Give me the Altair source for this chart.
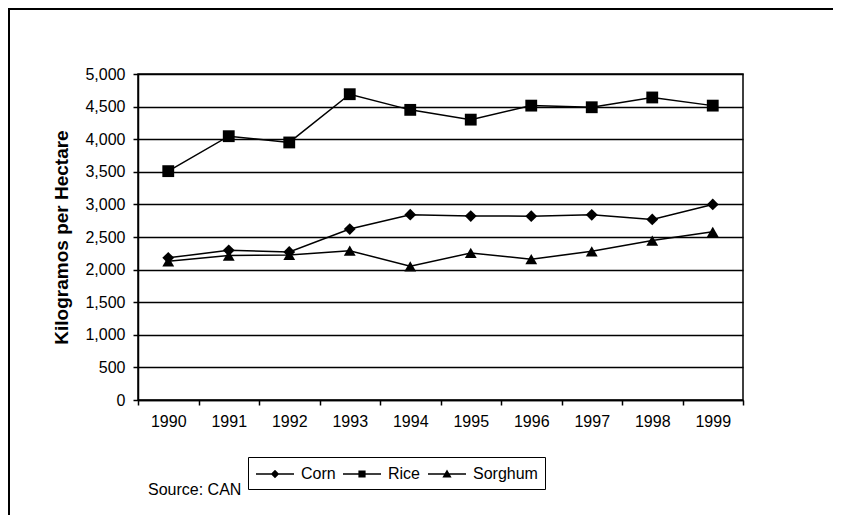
import altair as alt
import pandas as pd

years = ["1990", "1991", "1992", "1993", "1994", "1995", "1996", "1997", "1998", "1999"]
corn = [2180, 2295, 2270, 2622, 2842, 2821, 2820, 2840, 2770, 3000]
rice = [3510, 4046, 3950, 4690, 4450, 4300, 4515, 4490, 4640, 4515]
sorghum = [2127, 2215, 2225, 2290, 2050, 2255, 2160, 2280, 2445, 2580]
series = ["Corn", "Rice", "Sorghum"]
markers = ["diamond", "square", "triangle-up"]
y_ticks = [0, 500, 1000, 1500, 2000, 2500, 3000, 3500, 4000, 4500, 5000]

rows = []
for name, vals in zip(series, [corn, rice, sorghum]):
    for yr, v in zip(years, vals):
        rows.append({"Year": yr, "Crop": name, "Value": v})
df = pd.DataFrame(rows)

FONT = "Liberation Sans"

x_enc = alt.X(
    "Year:O",
    sort=years,
    scale=alt.Scale(type="band", paddingInner=0, paddingOuter=0),
    axis=alt.Axis(
        title=None, tickBand="extent", labelAngle=0, labelFontSize=16,
        labelFont=FONT, labelColor="black", domainColor="black", domainWidth=1.5,
        tickColor="black", tickWidth=1.5, tickSize=5, labelPadding=8, grid=False,
    ),
)
y_enc = alt.Y(
    "Value:Q",
    scale=alt.Scale(domain=[0, 5000], nice=False),
    axis=alt.Axis(
        title="Kilogramos per Hectare", values=y_ticks, format=",.0f",
        labelFontSize=16, labelFont=FONT, labelColor="black",
        titleFontSize=19, titleFont=FONT, titleFontWeight="bold", titleColor="black",
        titlePadding=13, domainColor="black", domainWidth=1.5, tickColor="black",
        tickWidth=1.5, tickSize=5, labelPadding=8, grid=True, gridColor="black",
        gridWidth=1.5,
    ),
)

base = alt.Chart(df)

lines = base.mark_line(color="black", strokeWidth=1.5).encode(
    x=x_enc, y=y_enc, detail="Crop:N"
)

point_layers = [
    base.transform_filter(alt.datum.Crop == name)
    .mark_point(filled=True, opacity=1, color="black", size=140, shape=shp)
    .encode(x=x_enc, y=y_enc)
    for name, shp in zip(series, markers)
]

# legend glyphs: a filled thin bar (the line) plus the marker, all clockwise
legend_paths = [
    "M-1.9,-0.075H1.9V0.075H-1.9Z M0,-0.42L0.42,0L0,0.42L-0.42,0Z",
    "M-1.9,-0.075H1.9V0.075H-1.9Z M-0.36,-0.36H0.36V0.36H-0.36Z",
    "M-1.9,-0.075H1.9V0.075H-1.9Z M0,-0.46L0.46,0.36H-0.46Z",
]

legend_layer = base.mark_point(
    filled=True, color="black", opacity=0, size=400
).encode(
    x=x_enc, y=y_enc,
    shape=alt.Shape(
        "Crop:N",
        scale=alt.Scale(domain=series, range=legend_paths),
        legend=alt.Legend(
            title=None, orient="none", legendX=110, legendY=383,
            direction="horizontal", columns=3, strokeColor="black",
            padding=7, columnPadding=6, symbolOffset=10, labelOffset=16,
            labelFontSize=16, labelFont=FONT, labelColor="black", symbolSize=400,
            symbolOpacity=1, symbolFillColor="black", symbolStrokeWidth=0,
        ),
    ),
)

one = pd.DataFrame({"t": ["Source: CAN"]})
source = alt.Chart(one).mark_text(
    align="left", baseline="middle", fontSize=16, font=FONT, color="black"
).encode(x=alt.value(10), y=alt.value(416), text="t:N")

frame = alt.Chart(one).mark_rect(
    fillOpacity=0, stroke="black", strokeWidth=2, clip=False
).encode(x=alt.value(-129), x2=alt.value(900), y=alt.value(-65), y2=alt.value(700))

chart = (
    alt.layer(frame, lines, *point_layers, legend_layer, source)
    .properties(
        width=605, height=326,
        padding={"left": 130, "top": 66, "right": 90, "bottom": 115},
        autosize=alt.AutoSizeParams(type="none"),
        background="white",
    )
    .configure_view(stroke="black", strokeWidth=1.5)
)

chart.save("out.html", embed_options={"renderer": "svg", "actions": False})
